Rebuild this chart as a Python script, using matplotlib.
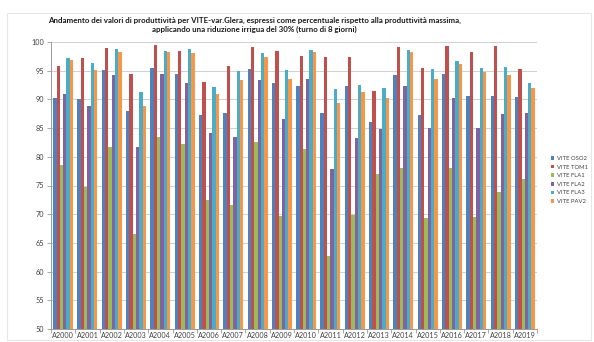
import matplotlib
matplotlib.use("Agg")
import matplotlib.pyplot as plt
from matplotlib.patches import Rectangle
import numpy as np

plt.rcParams['font.family'] = ['Lato', 'DejaVu Sans']

years = ["A2000", "A2001", "A2002", "A2003", "A2004", "A2005", "A2006", "A2007",
         "A2008", "A2009", "A2010", "A2011", "A2012", "A2013", "A2014", "A2015",
         "A2016", "A2017", "A2018", "A2019"]

vite_oso2 = [90.3, 90.0, 95.1, 87.9, 95.4, 94.5, 87.3, 87.6, 95.3, 92.8,
             92.4, 87.7, 92.3, 86.0, 94.2, 87.2, 94.4, 90.6, 90.6, 90.5]
vite_tom1 = [95.9, 97.2, 98.9, 94.5, 99.4, 98.5, 93.0, 95.8, 99.1, 98.5,
             97.5, 97.3, 97.4, 91.5, 99.2, 95.4, 99.3, 98.2, 99.3, 95.3]
vite_fla1 = [78.5, 74.7, 81.7, 66.6, 83.4, 82.2, 72.5, 71.6, 82.5, 69.6,
             81.4, 62.7, 69.9, 77.0, 78.0, 69.3, 78.0, 69.5, 73.8, 76.2]
vite_fla2 = [91.0, 88.9, 94.2, 81.7, 94.4, 92.9, 84.1, 83.5, 93.3, 86.6,
             93.6, 77.8, 83.2, 84.8, 92.3, 85.1, 90.3, 85.1, 87.4, 87.7]
vite_fla3 = [97.2, 96.3, 98.7, 91.3, 98.4, 98.8, 92.2, 95.0, 98.1, 95.1,
             98.6, 91.8, 92.5, 91.9, 98.6, 95.3, 96.7, 95.5, 95.7, 92.9]
vite_pav2 = [96.9, 95.1, 98.2, 88.9, 98.2, 98.0, 90.9, 93.3, 97.3, 93.6,
             98.3, 89.4, 91.3, 90.2, 98.3, 93.5, 96.1, 94.7, 94.3, 91.9]

series_names = ["VITE OSO2", "VITE TOM1", "VITE FLA1", "VITE FLA2", "VITE FLA3", "VITE PAV2"]
series_values = [vite_oso2, vite_tom1, vite_fla1, vite_fla2, vite_fla3, vite_pav2]
colors = ["#4F81BD", "#C0504D", "#9BBB59", "#8064A2", "#4BACC6", "#F79646"]

title = ("Andamento dei valori di produttività per VITE-var.Glera, espressi come percentuale rispetto alla produttività massima,\n"
         "applicando una riduzione irrigua del 30% (turno di 8 giorni)")

W, H = 594, 342
fig = plt.figure(figsize=(W / 100, H / 100), dpi=100)
fig.patch.set_facecolor("white")

# chart frame
fig.add_artist(Rectangle((7 / W, 2 / H), (W - 10) / W, (H - 15) / H,
                         transform=fig.transFigure, fill=False,
                         edgecolor="#e6e6e6", linewidth=0.8))

left, right, top, bottom = 51, 537, 42, 329
ax = fig.add_axes([left / W, 1 - bottom / H, (right - left) / W, (bottom - top) / H])

n = len(series_values)
group = 0.82
w = group / n
x = np.arange(len(years))
for j, (name, vals, c) in enumerate(zip(series_names, series_values, colors)):
    ax.bar(x + (j - (n - 1) / 2) * w, np.array(vals) - 50, bottom=50, width=w,
           color=c, label=name, linewidth=0, zorder=3)

ax.set_xlim(-0.5, len(years) - 0.5)
ax.set_ylim(50, 100)
ax.set_yticks(np.arange(50, 101, 5))
ax.yaxis.grid(True, color="#d0d0d0", linewidth=0.7, zorder=0)
ax.set_xticks(x)
ax.set_xticklabels(years)
ax.set_xticks(np.arange(-0.5, len(years), 1), minor=True)
ax.tick_params(axis="x", which="major", length=0, labelsize=5.2, pad=2.5, colors="#404040")
ax.tick_params(axis="x", which="minor", length=3, width=0.6, color="#9a9a9a", direction="out")
ax.tick_params(axis="y", length=3, width=0.6, color="#9a9a9a", labelsize=5.2, pad=2,
               labelcolor="#404040")

for s in ("top", "right"):
    ax.spines[s].set_visible(False)
for s in ("left", "bottom"):
    ax.spines[s].set_color("#9a9a9a")
    ax.spines[s].set_linewidth(0.7)

fig.text(0.428, 1 - 25 / H, title, ha="center", va="center", fontsize=5.7,
         fontweight="bold", color="#1a1a1a", linespacing=1.35)

leg = fig.legend(loc="center left", bbox_to_anchor=(548 / W, 1 - 180 / H),
                 frameon=False, fontsize=4.2, handlelength=0.6, handleheight=0.6,
                 handletextpad=0.5, labelspacing=0.62, borderpad=0)
for t in leg.get_texts():
    t.set_color("#404040")

fig.savefig("out.png", dpi=100)
